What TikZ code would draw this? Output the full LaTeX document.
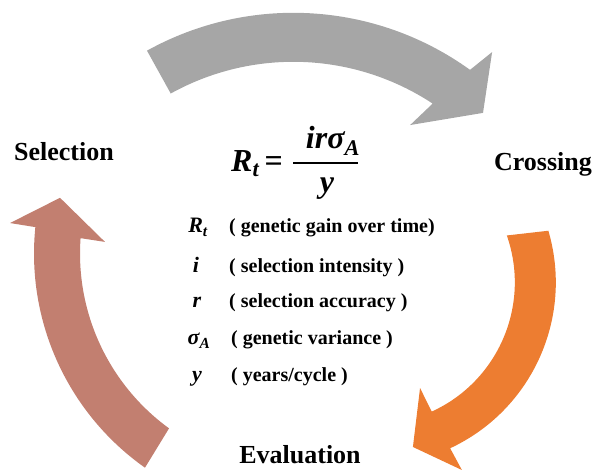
\documentclass[tikz,border=0pt]{standalone}
\usepackage{fontspec}
\setmainfont{Liberation Serif}
\definecolor{cyclegray}{HTML}{A6A6A6}
\definecolor{cycleorange}{HTML}{ED7D31}
\definecolor{cyclebrown}{HTML}{C27F70}
\begin{document}
\begin{tikzpicture}[x=1pt,y=1pt,
  stage/.style={font=\fontsize{26}{30}\selectfont\bfseries,inner sep=0pt},
  big/.style={font=\fontsize{32}{36}\selectfont\bfseries\itshape,inner sep=0pt},
  sym/.style={font=\fontsize{22}{26}\selectfont\bfseries\itshape,inner sep=0pt,anchor=base},
  desc/.style={font=\fontsize{20}{24}\selectfont\bfseries,inner sep=0pt,anchor=base west}]
\useasboundingbox (0,0) rectangle (593,470);

\begin{scope}[shift={(293.4,155.2)}]
\fill[cyclegray] (119:302) arc[start angle=119,end angle=54.2,radius=302]
  -- (52.9:329.4) -- (46.8:277) -- (58.4:222.8) -- (56.6:253)
  arc[start angle=56.6,end angle=119,radius=253] -- cycle;
\end{scope}

\begin{scope}[shift={(372.8,187.6)}]
\fill[cycleorange] (16.4:183) arc[start angle=16.4,end angle=-65,radius=183]
  -- (-64.6:207.7) -- (-76.3:169.4) -- (-65.9:115.7) -- (-65.5:142)
  arc[start angle=-65.5,end angle=19.3,radius=142] -- cycle;
\end{scope}

\begin{scope}[shift={(296,216.4)}]
\fill[cyclebrown] (234.8:262) arc[start angle=234.8,end angle=174.2,radius=262]
  -- (173.9:287.6) -- (166.7:242.5) -- (176.5:191.4) -- (175.9:216)
  arc[start angle=175.9,end angle=234,radius=216] -- cycle;
\end{scope}

\node[stage] (sel) at (64,318) {Selection};
\node[stage,anchor=base east] (cro) at (592,299) {Crossing};
\node[stage] (eva) at (300,15) {Evaluation};

\node[big,anchor=base west] (rt) at (231,298) {R\textsubscript{t}\,\upshape=};
\node[big,anchor=base] (num) at (333,321) {irσ\textsubscript{A}};
\node[big,anchor=base] (den) at (327,277) {y};
\draw[line width=1.5pt] (293,307) -- (358,307);

\node[sym] (srt) at (198,237) {R\textsubscript{t}};
\node[desc] (drt) at (229,237) {( genetic gain over time)};
\node[sym] (si) at (196,197) {i};
\node[desc] (di) at (229,197) {( selection intensity )};
\node[sym] (sr) at (197,162) {r};
\node[desc] (dr) at (229,162) {( selection accuracy )};
\node[sym] (ssig) at (199,125) {σ\textsubscript{A}};
\node[desc] (dsig) at (231,125) {( genetic variance )};
\node[sym] (sy) at (197,88) {y};
\node[desc] (dy) at (231,88) {( years/cycle )};
\end{tikzpicture}
\end{document}
